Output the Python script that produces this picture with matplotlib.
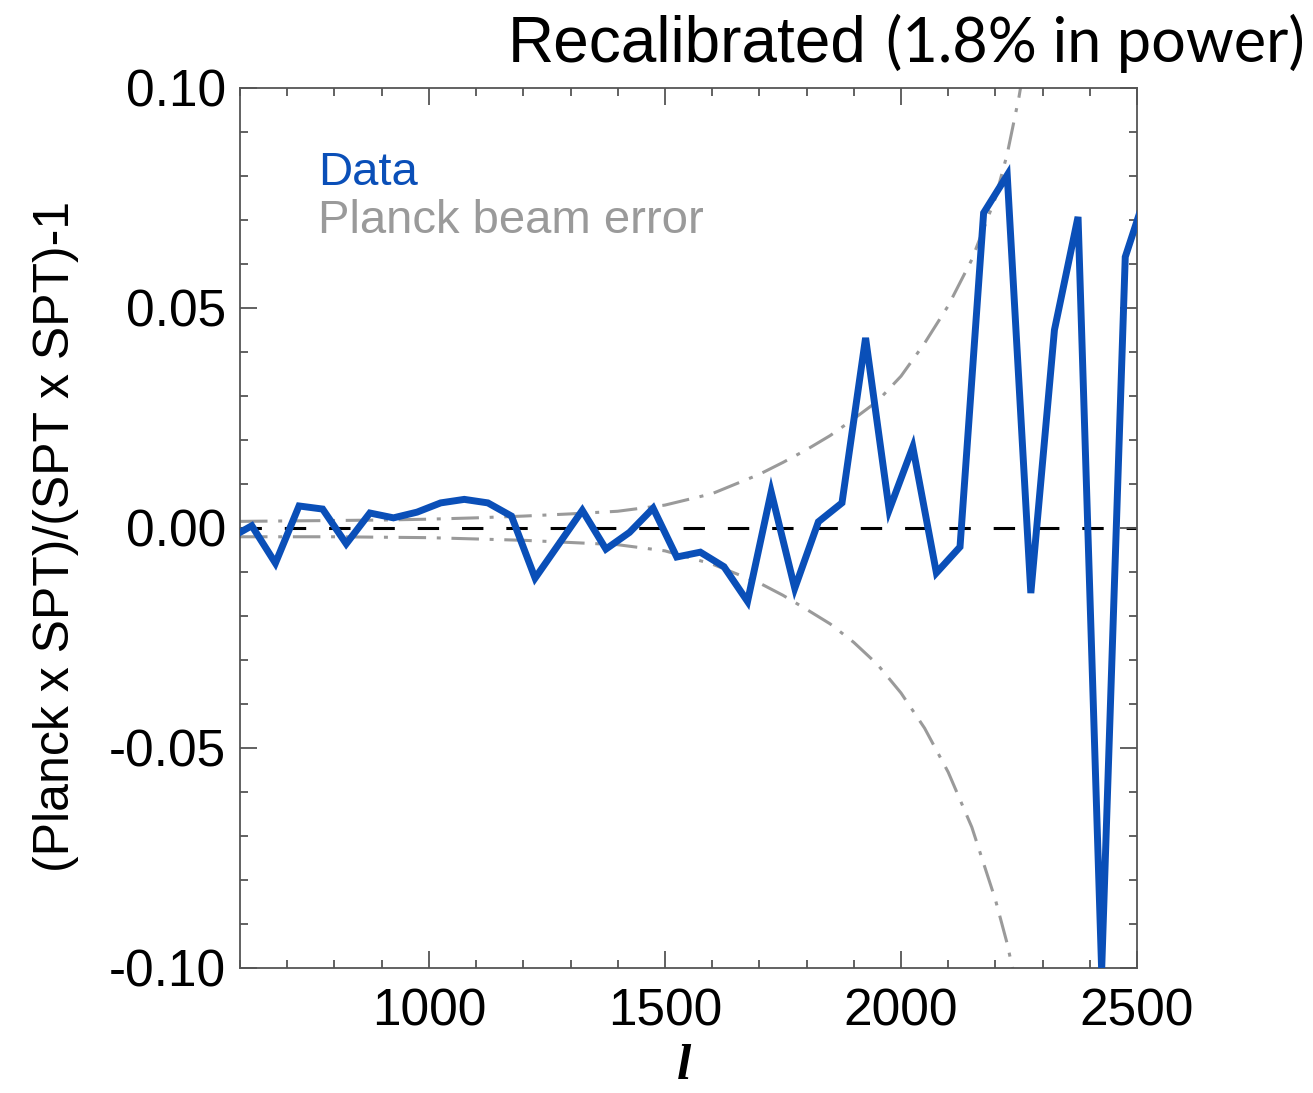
import matplotlib
matplotlib.use("Agg")
import matplotlib.pyplot as plt
from matplotlib.ticker import MultipleLocator

### Data ###
ell = [575, 625, 675, 725, 775, 825, 875, 925, 975, 1025, 1075, 1125, 1175,
       1225, 1275, 1325, 1375, 1425, 1475, 1525, 1575, 1625, 1675, 1725, 1775,
       1825, 1875, 1925, 1975, 2025, 2075, 2125, 2175, 2225, 2275, 2325, 2375,
       2425, 2475, 2525]
ratio = [-0.0025, 0.0005, -0.008, 0.005, 0.0043, -0.0036, 0.0034, 0.0023,
         0.0036, 0.0057, 0.0065, 0.0057, 0.0027, -0.0114, -0.0037, 0.004,
         -0.0048, -0.001, 0.0045, -0.0066, -0.0055, -0.0088, -0.0167, 0.0082,
         -0.0137, 0.0014, 0.0057, 0.0432, 0.0041, 0.0184, -0.0102, -0.0043,
         0.0716, 0.0802, -0.0148, 0.045, 0.0707, -0.1005, 0.0616, 0.078]

# Planck beam error envelope (upper / lower)
ell_beam = [600, 700, 800, 900, 1000, 1100, 1200, 1300, 1400, 1500, 1600,
            1700, 1750, 1800, 1850, 1900, 1950, 2000, 2050, 2100, 2150, 2200,
            2225, 2250, 2300]
beam_hi = [0.0015, 0.0016, 0.0017, 0.0018, 0.002, 0.0023, 0.0027, 0.0032,
           0.0038, 0.0052, 0.0078, 0.0122, 0.0149, 0.0178, 0.021, 0.0248,
           0.0288, 0.0345, 0.042, 0.0505, 0.061, 0.075, 0.085, 0.098, 0.13]
beam_lo = [-0.002, -0.002, -0.002, -0.0021, -0.0022, -0.0025, -0.0028,
           -0.0033, -0.0038, -0.0052, -0.0082, -0.0125, -0.0153, -0.0185,
           -0.0218, -0.026, -0.031, -0.0375, -0.0455, -0.0555, -0.068, -0.0845,
           -0.0945, -0.107, -0.135]

xticks = [1000, 1500, 2000, 2500]
yticks = [-0.10, -0.05, 0.00, 0.05, 0.10]

BLUE = '#0a4fb8'
GREY = '#9a9a9a'

plt.rcParams['font.family'] = ['Liberation Sans', 'DejaVu Sans']
plt.rcParams['mathtext.fontset'] = 'custom'
plt.rcParams['mathtext.it'] = 'Liberation Serif:italic:bold'

fig = plt.figure(figsize=(13.13, 10.93), dpi=100)
ax = fig.add_axes([0.1828, 0.1144, 0.6832, 0.8051])

# zero line
ax.axhline(0, color='black', lw=2.2, dashes=(7, 7.5), zorder=1)

# beam error envelope
ax.plot(ell_beam, beam_hi, color=GREY, lw=2.2, dashes=(9, 3.5, 1.3, 3.5), zorder=2)
ax.plot(ell_beam, beam_lo, color=GREY, lw=2.2, dashes=(9, 3.5, 1.3, 3.5), zorder=2)

# data
ax.plot(ell, ratio, color=BLUE, lw=5, solid_joinstyle='miter', zorder=3)

ax.set_xlim(600, 2500)
ax.set_ylim(-0.10, 0.10)
ax.set_xticks(xticks)
ax.set_yticks(yticks)
ax.set_yticklabels([f"{v:.2f}" for v in yticks])
ax.xaxis.set_minor_locator(MultipleLocator(100))
ax.yaxis.set_minor_locator(MultipleLocator(0.01))
ax.tick_params(which='both', direction='in', top=True, right=True,
               color='#555555', width=1.3)
ax.tick_params(which='major', length=12, labelsize=37)
ax.tick_params(which='minor', length=6)
ax.tick_params(axis='x', which='major', pad=14)
ax.tick_params(axis='y', which='major', pad=10)
for sp in ax.spines.values():
    sp.set_color('#555555')
    sp.set_linewidth(1.3)

ax.set_ylabel("(Planck x SPT)/(SPT x SPT)-1", fontsize=36)
ax.yaxis.set_label_coords(-0.18, 0.49)
ax.set_xlabel(r"$l$", fontsize=37, va='bottom')
ax.xaxis.set_label_coords(0.495, -0.1385)

# legend as coloured text
ax.text(0.087, 0.8898, "Data", color=BLUE, fontsize=34, transform=ax.transAxes,
        va='baseline')
ax.text(0.087, 0.835, "Planck beam error", color=GREY, fontsize=34,
        transform=ax.transAxes, va='baseline')

# title
fig.text(508 / 1313, 1 - 62 / 1093, "Recalibrated", fontsize=46, va='baseline',
         ha='left')
fig.text(1305 / 1313, 1 - 62 / 1093, "(1.8% in power)", fontsize=44,
         family=['Lato', 'DejaVu Sans'], va='baseline', ha='right')

fig.savefig("out.png", dpi=100)
